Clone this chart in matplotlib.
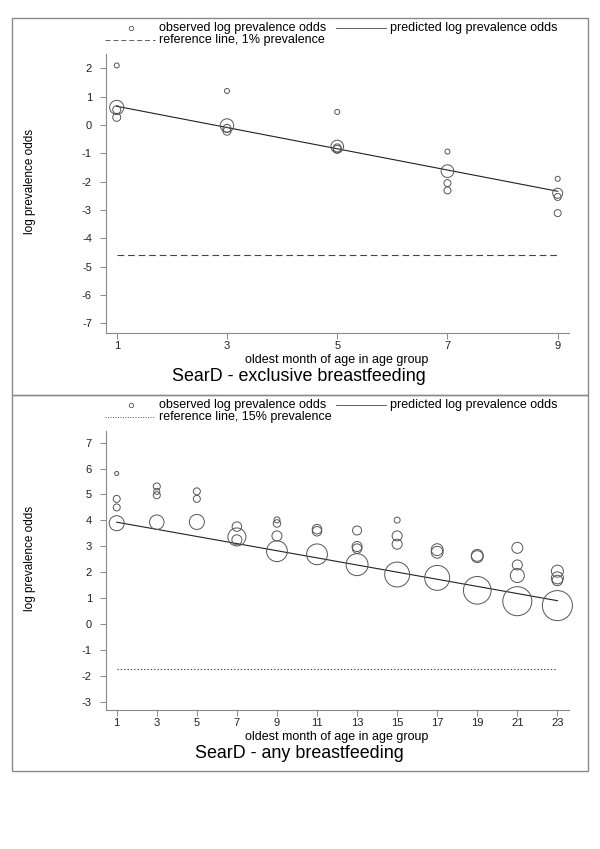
import matplotlib
matplotlib.use("Agg")
import matplotlib.pyplot as plt
from matplotlib.patches import Rectangle
from matplotlib.lines import Line2D

plt.rcParams["font.family"] = ["Liberation Sans", "DejaVu Sans"]
plt.rcParams["axes.unicode_minus"] = False

## --data: exclusive breastfeeding
ex_age = [1, 1, 1, 1, 3, 3, 3, 3, 5, 5, 5, 5, 7, 7, 7, 7, 9, 9, 9, 9]
ex_obs = [2.10, 0.62, 0.54, 0.27, 1.20, -0.02, -0.12, -0.22,
          0.46, -0.76, -0.81, -0.86, -0.94, -1.63, -2.05, -2.31,
          -1.90, -2.41, -2.54, -3.11]
ex_wt = [25, 200, 64, 64, 25, 180, 64, 64, 25, 160, 64, 64,
         25, 160, 49, 49, 25, 100, 49, 49]
ex_pred_x = [1, 9]
ex_pred_y = [0.66, -2.34]
ex_ref = -4.595

## --data: any breastfeeding
any_age = [1, 1, 1, 1, 3, 3, 3, 3, 5, 5, 5, 7, 7, 7,
           9, 9, 9, 9, 11, 11, 11, 13, 13, 13, 13,
           15, 15, 15, 15, 17, 17, 17, 19, 19, 19,
           21, 21, 21, 21, 23, 23, 23, 23]
any_obs = [5.81, 4.83, 4.50, 3.89, 5.31, 5.12, 4.97, 3.93, 5.12, 4.83, 3.94, 3.76, 3.36, 3.25,
           4.02, 3.88, 3.40, 2.81, 3.66, 3.58, 2.69, 3.61, 2.99, 2.91, 2.29,
           4.01, 3.40, 3.08, 1.91, 2.87, 2.77, 1.78, 2.65, 2.60, 1.30,
           2.94, 2.28, 1.87, 0.88, 2.04, 1.78, 1.68, 0.71]
any_wt = [16, 49, 49, 225, 49, 36, 49, 210, 49, 49, 225, 90, 324, 100,
          36, 56, 100, 430, 90, 90, 430, 81, 100, 90, 480,
          36, 100, 100, 620, 140, 140, 620, 140, 140, 760,
          120, 100, 196, 840, 144, 144, 110, 900]
any_pred_x = [1, 23]
any_pred_y = [3.93, 0.90]
any_ref = -1.735

W, H = 600, 849
fig = plt.figure(figsize=(6, 8.49), dpi=100)

def fx(px):
    return px / W

def fy(py):
    return 1 - py / H

gray = "#8a8a8a"
mk = "#555555"

def panel(y0, y1, ax_top, ax_bot, xs, ys, ws, px, py, ref, xlim, ylim,
          yticks, xticks, title, refstyle, reflabel):
    # outer frame
    fig.patches.append(Rectangle((fx(12), fy(y1)), fx(588) - fx(12), fy(y0) - fy(y1),
                                 transform=fig.transFigure, fill=False,
                                 edgecolor=gray, lw=1.0))
    ax = fig.add_axes([fx(105.5), fy(ax_bot), fx(569) - fx(105.5), fy(ax_top) - fy(ax_bot)])
    ax.scatter(xs, ys, s=[w * 0.52 for w in ws], facecolors="none",
               edgecolors=mk, linewidths=0.7, zorder=3, clip_on=False)
    ax.plot(px, py, color="#222222", lw=0.8, zorder=2)
    ax.plot([px[0], px[-1]], [ref, ref], color="#444444", lw=0.8, **refstyle)
    ax.set_xlim(*xlim)
    ax.set_ylim(*ylim)
    ax.set_yticks(yticks)
    ax.set_xticks(xticks)
    for s in ("top", "right"):
        ax.spines[s].set_visible(False)
    for s in ("left", "bottom"):
        ax.spines[s].set_color(gray)
        ax.spines[s].set_linewidth(0.8)
    ax.tick_params(axis="y", length=4.3, width=0.7, color=gray, pad=5.5,
                   labelsize=8, labelcolor="#222222")
    ax.tick_params(axis="x", length=4.3, width=0.7, color=gray, pad=1.5,
                   labelsize=8, labelcolor="#222222")
    fig.text(fx(30), fy((ax_top + ax_bot) / 2 - 12), "log prevalence odds", rotation=90,
             ha="center", va="center", fontsize=8.5)
    fig.text(fx(336.6), fy(ax_bot + 27), "oldest month of age in age group",
             ha="center", va="center", fontsize=9)
    fig.text(fx(299), fy(ax_bot + 43), title, ha="center", va="center", fontsize=12.9)

    # legend
    ly1, ly2 = y0 + 9.5, y0 + 22
    fig.lines.append(Line2D([fx(131)], [fy(ly1)], marker="o", markersize=3.2,
                            markerfacecolor="none", markeredgecolor=mk,
                            markeredgewidth=0.6, transform=fig.transFigure))
    fig.text(fx(159), fy(ly1), "observed log prevalence odds", va="center", fontsize=9)
    fig.lines.append(Line2D([fx(336), fx(386)], [fy(ly1), fy(ly1)], color="#444444",
                            lw=0.6, transform=fig.transFigure))
    fig.text(fx(390), fy(ly1), "predicted log prevalence odds", va="center", fontsize=9)
    fig.lines.append(Line2D([fx(105), fx(155)], [fy(ly2), fy(ly2)], color="#444444",
                            lw=0.6, transform=fig.transFigure, **refstyle))
    fig.text(fx(159), fy(ly2), reflabel, va="center", fontsize=9)
    return ax

panel(18, 395, 54, 333.3, ex_age, ex_obs, ex_wt, ex_pred_x, ex_pred_y, ex_ref,
      (0.796, 9.205), (-7.353, 2.505), range(-7, 3), [1, 3, 5, 7, 9],
      "SearD - exclusive breastfeeding", dict(linestyle=(0, (6, 3.5))),
      "reference line, 1% prevalence")
panel(395, 771, 431, 710, any_age, any_obs, any_wt, any_pred_x, any_pred_y, any_ref,
      (0.44, 23.58), (-3.32, 7.45), range(-3, 8), list(range(1, 24, 2)),
      "SearD - any breastfeeding", dict(linestyle=(0, (1.2, 1.8))),
      "reference line, 15% prevalence")

fig.savefig("out.png", dpi=100)
